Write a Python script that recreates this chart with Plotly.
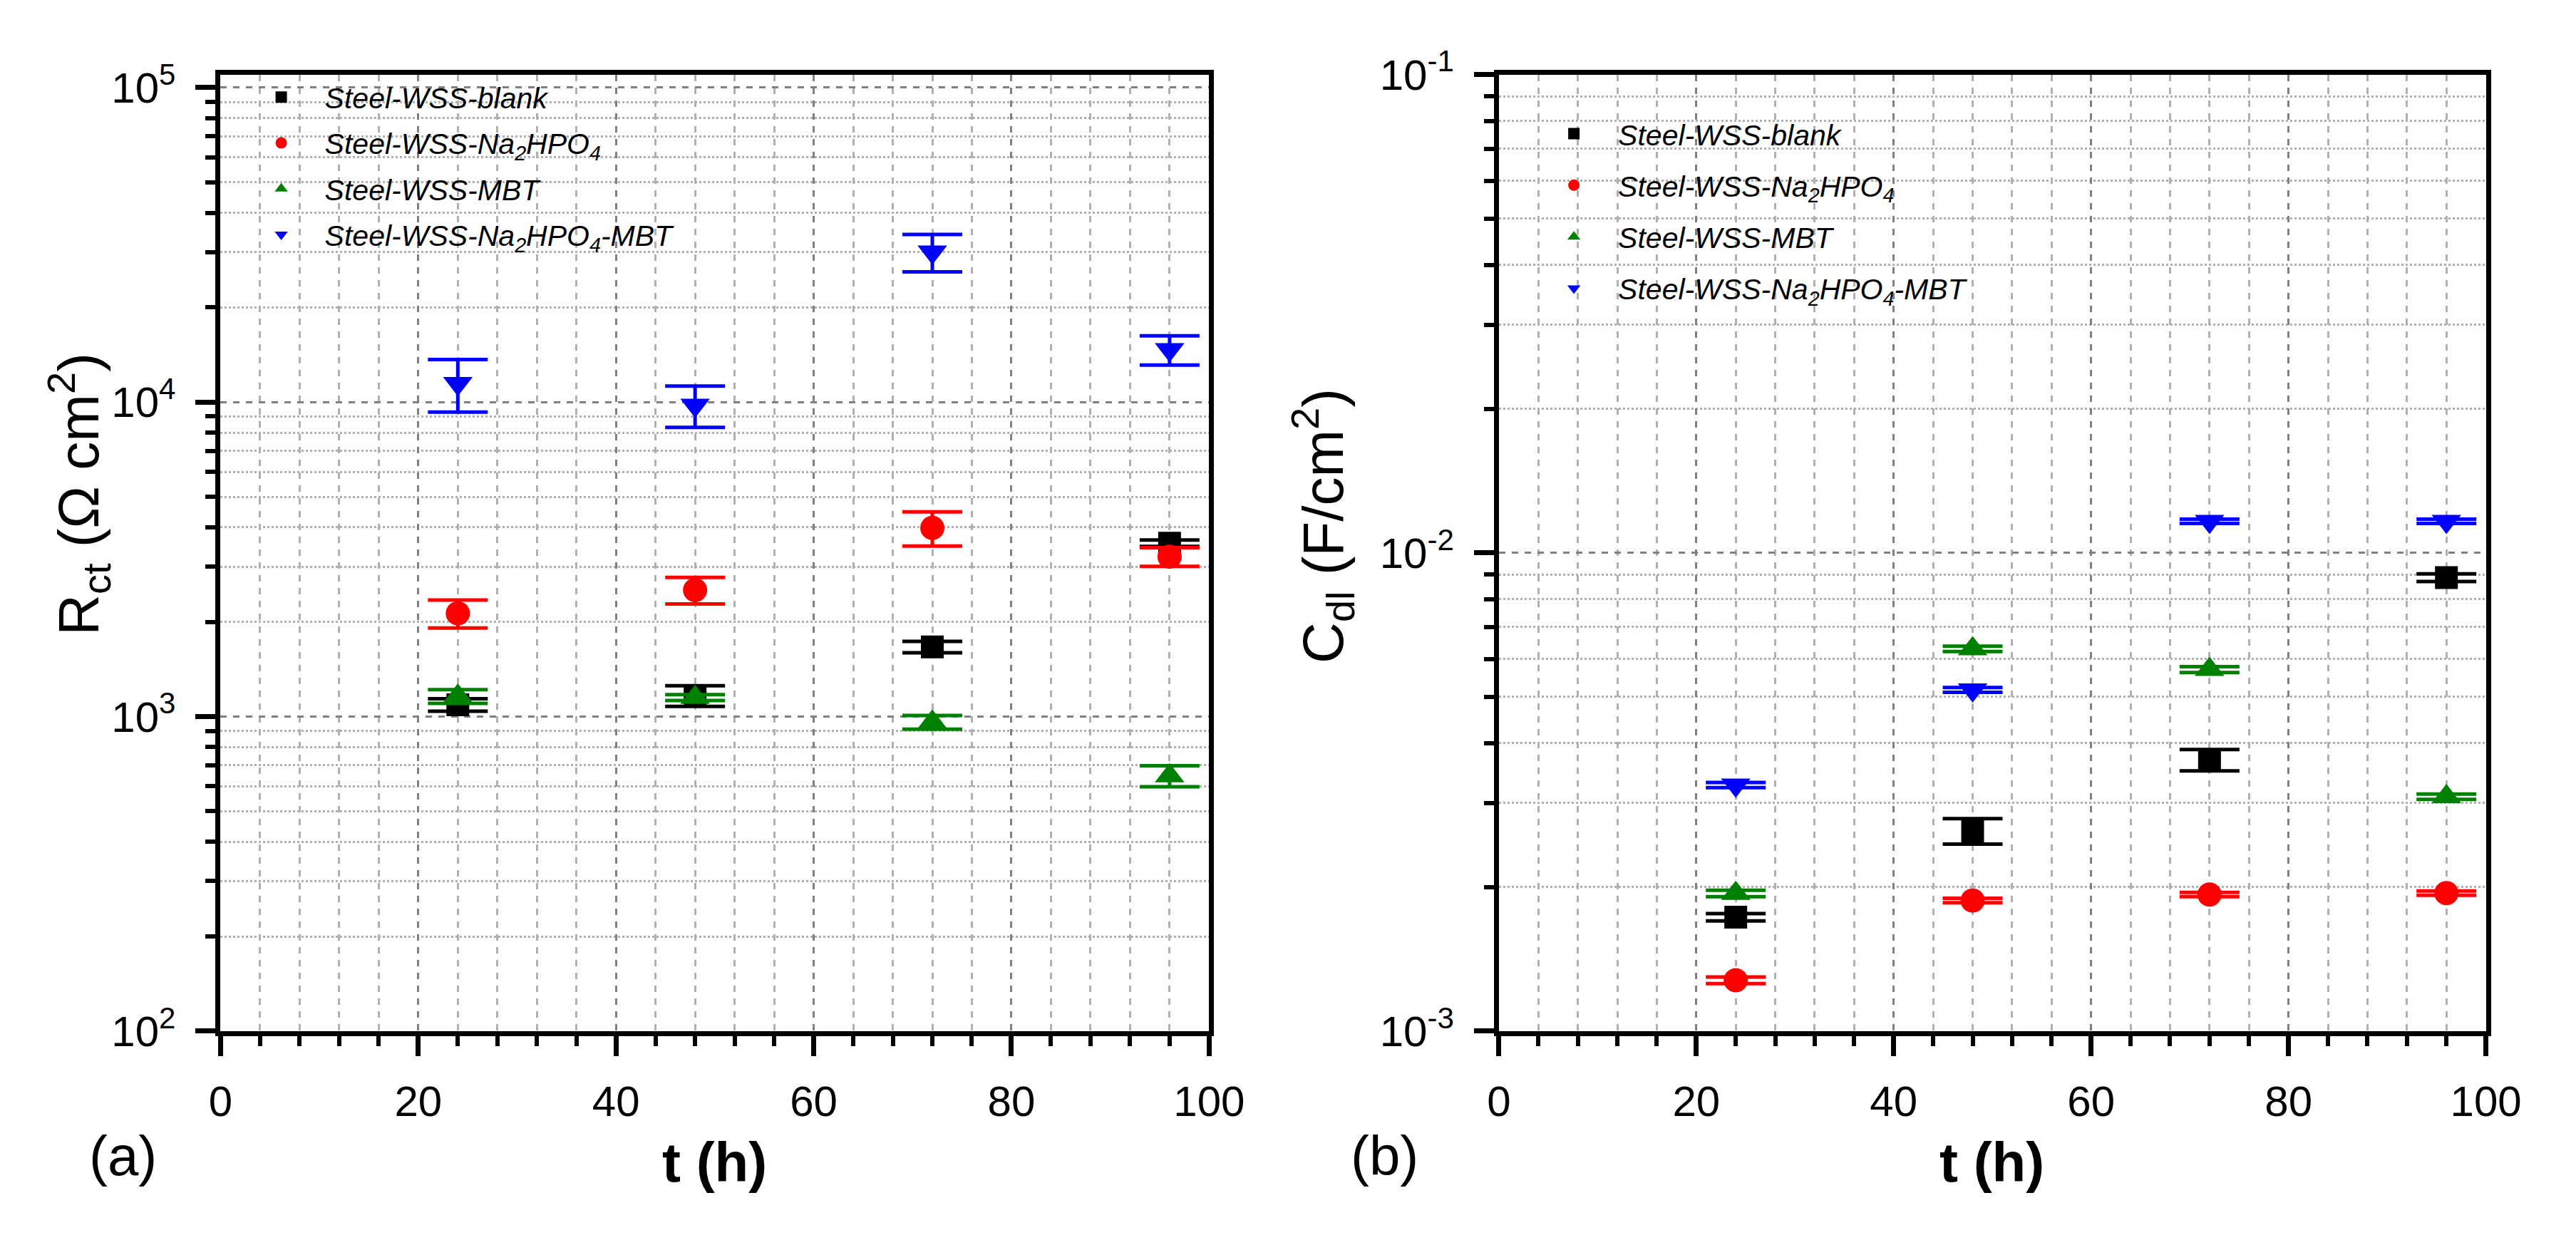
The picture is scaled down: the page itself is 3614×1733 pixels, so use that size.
import plotly.graph_objects as go

# ---------------- data ----------------
t_h = [24, 48, 72, 96]

series_names = [
    "Steel-WSS-blank",
    "Steel-WSS-Na<sub>2</sub>HPO<sub>4</sub>",
    "Steel-WSS-MBT",
    "Steel-WSS-Na<sub>2</sub>HPO<sub>4</sub>-MBT",
]

# (a) charge transfer resistance, Ohm cm2
rct_blank = [1090, 1165, 1665, 3560]
rct_blank_err = [50, 88, 70, 85]
rct_na2hpo4 = [2130, 2525, 3980, 3225]
rct_na2hpo4_err = [218, 244, 495, 222]
rct_mbt = [1160, 1150, 960, 648]
rct_mbt_err = [58, 25, 48, 50]
rct_na2hpo4_mbt = [11470, 9780, 30030, 14690]
rct_na2hpo4_mbt_err = [2180, 1470, 4090, 1565]

# (b) double layer capacitance, F/cm2
cdl_blank = [0.00173, 0.00262, 0.00369, 0.008875]
cdl_blank_err = [0.00003, 0.00016, 0.00019, 0.000165]
cdl_na2hpo4 = [0.001277, 0.001875, 0.00193, 0.001943]
cdl_na2hpo4_err = [0.00002, 0.00002, 0.00002, 0.00002]
cdl_mbt = [0.00194, 0.0063, 0.0057, 0.00309]
cdl_mbt_err = [0.00003, 0.00008, 0.00008, 0.00004]
cdl_na2hpo4_mbt = [0.00327, 0.00517, 0.01164, 0.01164]
cdl_na2hpo4_mbt_err = [0.00004, 0.00006, 0.00012, 0.00012]

x_ticks = [0, 20, 40, 60, 80, 100]
rct_tickvals = [1e2, 1e3, 1e4, 1e5]
rct_ticktext = ["10<sup>2</sup>", "10<sup>3</sup>", "10<sup>4</sup>", "10<sup>5</sup>"]
cdl_tickvals = [1e-3, 1e-2, 1e-1]
cdl_ticktext = ["10<sup>-3</sup>", "10<sup>-2</sup>", "10<sup>-1</sup>"]

# ---------------- styles ----------------
colors = ["#000000", "#ff0000", "#008000", "#0000ff"]
symbols = ["square", "circle", "triangle-up", "triangle-down"]
sizes = [32, 34, 36, 36]
FONT = "Liberation Sans, Arial, sans-serif"

fig = go.Figure()

rct_vals = [rct_blank, rct_na2hpo4, rct_mbt, rct_na2hpo4_mbt]
rct_errs = [rct_blank_err, rct_na2hpo4_err, rct_mbt_err, rct_na2hpo4_mbt_err]
cdl_vals = [cdl_blank, cdl_na2hpo4, cdl_mbt, cdl_na2hpo4_mbt]
cdl_errs = [cdl_blank_err, cdl_na2hpo4_err, cdl_mbt_err, cdl_na2hpo4_mbt_err]

for i in range(4):
    fig.add_trace(go.Scatter(
        x=t_h, y=rct_vals[i], mode="markers", name=series_names[i],
        legendgroup="a%d" % i,
        marker=dict(symbol=symbols[i], size=sizes[i], color=colors[i], line=dict(width=0)),
        error_y=dict(type="data", array=rct_errs[i], visible=True, color=colors[i],
                     thickness=5, width=42),
        xaxis="x", yaxis="y", legend="legend",
    ))
for i in range(4):
    fig.add_trace(go.Scatter(
        x=t_h, y=cdl_vals[i], mode="markers", name=series_names[i],
        legendgroup="b%d" % i,
        marker=dict(symbol=symbols[i], size=sizes[i], color=colors[i], line=dict(width=0)),
        error_y=dict(type="data", array=cdl_errs[i], visible=True, color=colors[i],
                     thickness=5, width=42),
        xaxis="x2", yaxis="y2", legend="legend2",
    ))

def minor_logvals(lo, hi):
    vals = []
    for e in range(lo, hi):
        for d in range(2, 10):
            vals.append(d * 10 ** e)
    return vals

MAJ_GRID = "#808080"
MIN_GRID = "#b0b0b0"
TICKFONT = dict(family=FONT, size=60, color="black")

xcommon = dict(
    range=[0, 100], tickvals=x_ticks, ticks="outside", ticklen=28, tickwidth=7,
    tickcolor="black", showline=True, linewidth=7, linecolor="black", mirror=True,
    showgrid=True, gridcolor=MAJ_GRID, gridwidth=3, griddash="dash",
    zeroline=False, tickfont=TICKFONT, ticklabelstandoff=12,
    minor=dict(dtick=4, tick0=0, ticks="outside", ticklen=14, tickwidth=6, tickcolor="black",
               showgrid=True, gridcolor=MIN_GRID, gridwidth=2.5, griddash="dash"),
)
ycommon = dict(
    type="log", ticks="outside", ticklen=28, tickwidth=7, tickcolor="black",
    showline=True, linewidth=7, linecolor="black", mirror=True,
    showgrid=True, gridcolor=MAJ_GRID, gridwidth=3, griddash="dash",
    zeroline=False, tickfont=TICKFONT, ticklabelstandoff=16,
)

LEGFONT = dict(family=FONT, size=41, color="black", style="italic")

fig.update_layout(
    width=3614, height=1733,
    margin=dict(l=0, r=0, t=0, b=0),
    paper_bgcolor="white", plot_bgcolor="white",
    font=dict(family=FONT, color="black"),
    xaxis=dict(domain=[0.0802, 0.4712], anchor="y", **xcommon),
    xaxis2=dict(domain=[0.5858, 0.9762], anchor="y2", **xcommon),
    yaxis=dict(domain=[0.157, 0.967], anchor="x", range=[2, 5.0414],
               tickvals=rct_tickvals, ticktext=rct_ticktext,
               minor=dict(tickvals=minor_logvals(2, 5), ticks="outside", ticklen=14,
                          tickwidth=6, tickcolor="black", showgrid=True,
                          gridcolor=MIN_GRID, gridwidth=3, griddash="dot"),
               **ycommon),
    yaxis2=dict(domain=[0.157, 0.967], anchor="x2", range=[-3, -1],
                tickvals=cdl_tickvals, ticktext=cdl_ticktext,
                minor=dict(tickvals=minor_logvals(-3, -1), ticks="outside", ticklen=14,
                           tickwidth=6, tickcolor="black", showgrid=True,
                           gridcolor=MIN_GRID, gridwidth=3, griddash="dot"),
                **ycommon),
    legend=dict(x=0.087, y=0.968, xanchor="left", yanchor="top",
                bgcolor="rgba(0,0,0,0)", borderwidth=0, itemwidth=112,
                tracegroupgap=8, font=LEGFONT),
    legend2=dict(x=0.598, y=0.937, xanchor="left", yanchor="top",
                 bgcolor="rgba(0,0,0,0)", borderwidth=0, itemwidth=114,
                 tracegroupgap=16, font=LEGFONT),
    showlegend=True,
)

def ann(text, xpx, ypx, size, angle=0):
    fig.add_annotation(text=text, textangle=angle, x=xpx / 3614, y=1 - ypx / 1733,
                       xref="paper", yref="paper", xanchor="center", yanchor="middle",
                       showarrow=False, font=dict(family=FONT, size=size, color="black"))

ann("R<sub>ct</sub> (Ω cm<sup>2</sup>)", 87, 673, 80, -90)
ann("C<sub>dl</sub> (F/cm<sup>2</sup>)", 1865, 719, 80, -90)
ann("<b>t (h)</b>", 996, 1653, 78)
ann("<b>t (h)</b>", 2822, 1653, 78)
ann("(a)", 150, 1644, 78)
ann("(b)", 1954, 1644, 78)

fig.write_html("out.html")
